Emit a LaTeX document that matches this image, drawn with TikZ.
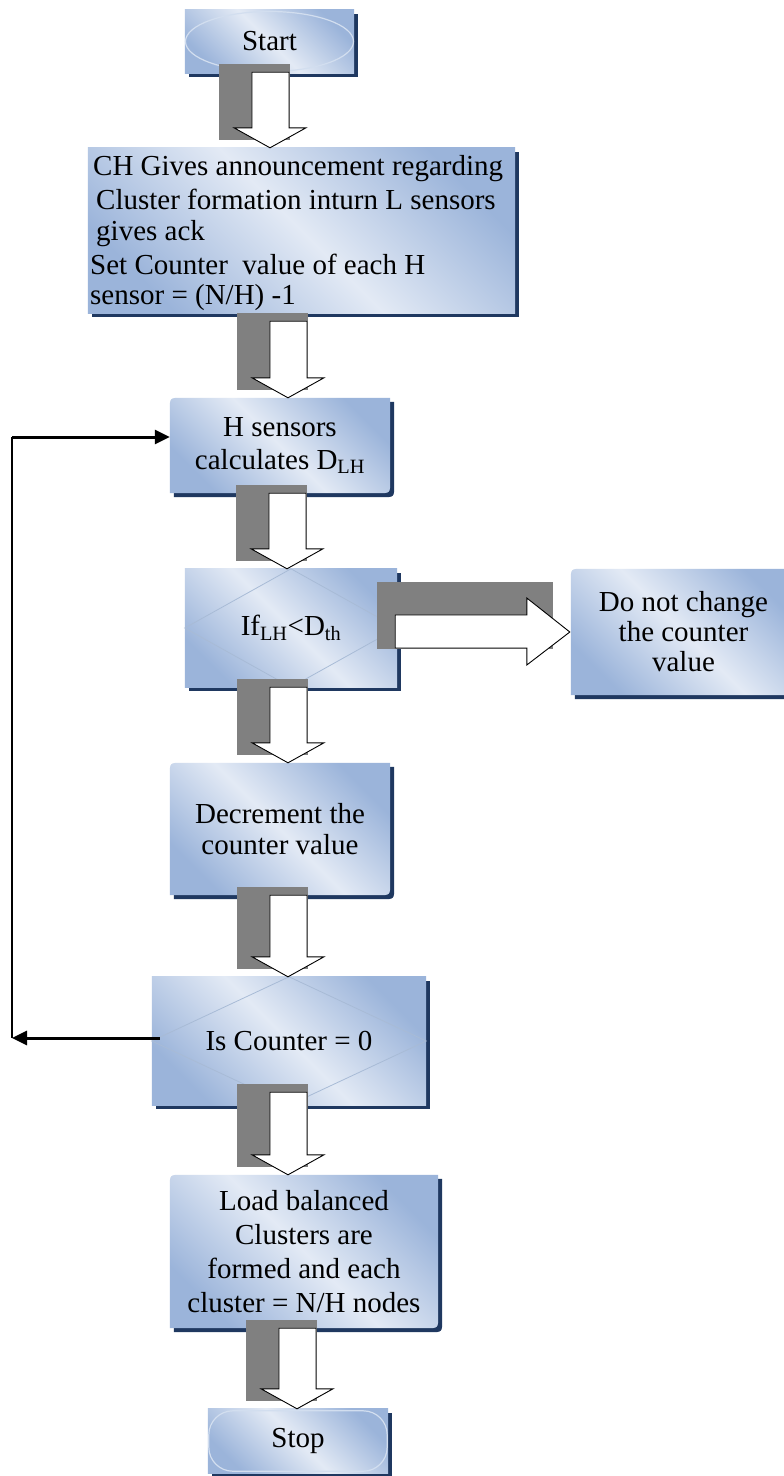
\documentclass[tikz,border=0pt]{standalone}
\usepackage{fontspec}
\setmainfont{Liberation Serif}
\usetikzlibrary{calc,arrows.meta,backgrounds}
\definecolor{shadowc}{HTML}{1F3860}
\definecolor{arrgray}{HTML}{808080}
\definecolor{bxin}{HTML}{E3EAF5}
\definecolor{bxout}{HTML}{9BB4DA}
\definecolor{dialine}{HTML}{A8BBD6}
\definecolor{innerln}{HTML}{D2DEEF}
\tikzset{
  box/.style={inner sep=0pt, align=center, font=\fontsize{29}{33}\selectfont, text=black},
  boxline/.style={anchor=base west, inner sep=0pt, font=\fontsize{29}{33}\selectfont, text=black},
  boxfill/.style={top color=bxout, bottom color=bxout, middle color=bxin, shading angle=-45},
  blk/.style={draw=black, fill=white, line width=0.9pt, line join=miter},
  diag/.style={draw=dialine, line width=0.8pt},
  innerbd/.style={draw=innerln, line width=1.2pt},
  loopthick/.style={line width=3pt, -{Triangle[length=15pt,width=14pt]}},
}
\newcommand\sqbox[1]{%
  \fill[shadowc] ([shift={(4,4)}]#1.south west) rectangle ([shift={(4,4)}]#1.north east);
  \shade[boxfill] (#1.south west) rectangle (#1.north east);}
\newcommand\rdbox[1]{%
  \fill[shadowc] ([shift={(4,4)}]#1.south west) -- ([shift={(4,16)}]#1.north west) .. controls ([shift={(4,4)}]#1.north west) .. ([shift={(16,4)}]#1.north west) -- ([shift={(4,4)}]#1.north east) -- ([shift={(4,-8)}]#1.south east) .. controls ([shift={(4,4)}]#1.south east) .. ([shift={(-8,4)}]#1.south east) -- cycle;
  \shade[boxfill] (#1.south west) -- ([shift={(0,12)}]#1.north west) .. controls (#1.north west) .. ([shift={(12,0)}]#1.north west) -- (#1.north east) -- ([shift={(0,-12)}]#1.south east) .. controls (#1.south east) .. ([shift={(-12,0)}]#1.south east) -- cycle;}
\newcommand\blockarr[4]{%
  \fill[arrgray] let \p1=(#1.south), \p2=(#2.north) in ({#3pt-51pt},{\y1+#4pt}) rectangle ({#3pt+20pt},{\y2+8pt});
  \filldraw[blk] let \p1=(#1.south), \p2=(#2.north) in ({#3pt-18pt},{\y1+#4pt-8pt}) -- ({#3pt+19pt},{\y1+#4pt-8pt}) -- ({#3pt+19pt},{\y2+20pt}) -- ({#3pt+36pt},{\y2+20pt}) -- ({#3pt},{\y2}) -- ({#3pt-36pt},{\y2+20pt}) -- ({#3pt-18pt},{\y2+20pt}) -- cycle;}
\begin{document}
\begin{tikzpicture}[x=1pt,y=-1pt]
\useasboundingbox (0,0) rectangle (784,1476);
% nodes
\node[box, minimum width=169pt, minimum height=63pt] (n1) at (269.5,41.5) {Start};
\node[box, minimum width=427pt, minimum height=165pt] (n2) at (301.5,230.5) {};
\node[boxline] (t2a) at (93,175) {CH Gives announcement regarding};
\node[boxline] (t2b) at (96,209) {Cluster formation inturn L sensors};
\node[boxline] (t2c) at (96,240) {gives ack};
\node[boxline] (t2d) at (90,274) {Set Counter\ \ value of each H};
\node[boxline] (t2e) at (90,304) {sensor = (N/H) -1};
\node[box, minimum width=220pt, minimum height=95pt] (n3) at (280,445.5) {H sensors\\calculates D\textsubscript{LH}};
\node[box, minimum width=212pt, minimum height=118pt] (n4) at (291,628) {If\textsubscript{LH}<D\textsubscript{th}};
\node[box, minimum width=225pt, minimum height=126pt, font=\fontsize{29}{30}\selectfont] (nR) at (683.5,632) {Do not change\\the counter\\value};
\node[box, minimum width=220pt, minimum height=132pt, font=\fontsize{29}{31}\selectfont] (n5) at (280,829) {Decrement the\\counter value};
\node[box, minimum width=274pt, minimum height=128pt] (n6) at (289,1041) {Is Counter = 0};
\node[box, minimum width=268pt, minimum height=153pt, font=\fontsize{29}{34}\selectfont] (n7) at (304,1251.5) {Load balanced\\Clusters are\\formed and each\\cluster = N/H nodes};
\node[box, minimum width=180pt, minimum height=64pt] (n8) at (298,1441) {Stop};
% shapes behind
\begin{pgfonlayer}{background}
  \fill[white] (0,0) rectangle (784,1476);
  \sqbox{n1}
  \draw[innerbd] (n1.center) ellipse [x radius=84pt, y radius=30pt];
  \sqbox{n2}
  \rdbox{n3}
  \sqbox{n4}
  \draw[diag] (n4.north) -- (n4.west) -- (n4.south) -- (n4.east) -- cycle;
  \rdbox{nR}
  \rdbox{n5}
  \sqbox{n6}
  \draw[diag] (n6.north) -- (n6.west) -- (n6.south) -- (n6.east) -- cycle;
  \rdbox{n7}
  \sqbox{n8}
  \draw[innerbd, rounded corners=24pt] ([shift={(1,2)}]n8.north west) rectangle ([shift={(-1,-2)}]n8.south east);
\end{pgfonlayer}
% block arrows
\blockarr{n1}{n2}{270}{9}
\blockarr{n2}{n3}{288}{0}
\blockarr{n3}{n4}{287}{8}
\blockarr{n4}{n5}{288}{8}
\blockarr{n5}{n6}{288}{8}
\blockarr{n6}{n7}{288}{21}
\blockarr{n7}{n8}{297}{8}
\fill[arrgray] let \p1=(n4.east), \p2=(nR.west) in ({\x2-194pt},{\y2+50pt}) rectangle ({\x2-18pt},{\y2-17pt});
\filldraw[blk] let \p1=(n4.east), \p2=(nR.west) in ({\x1-2pt},{\y2+17pt}) -- ({\x2-44pt},{\y2+17pt}) -- ({\x2-44pt},{\y2+34pt}) -- ({\x2-1pt},{\y2}) -- ({\x2-44pt},{\y2-33pt}) -- ({\x2-44pt},{\y2-16pt}) -- ({\x1-2pt},{\y2-16pt}) -- cycle;
% feedback loop
\coordinate (L1) at (12,437);
\coordinate (L2) at (12,1038);
\draw[line width=1.1pt] (L1) -- (L2);
\draw[loopthick] (L1) -- (L1 -| n3.west);
\draw[loopthick] ($(L2 -| n6.west)+(8,0)$) -- (L2);
\end{tikzpicture}
\end{document}
